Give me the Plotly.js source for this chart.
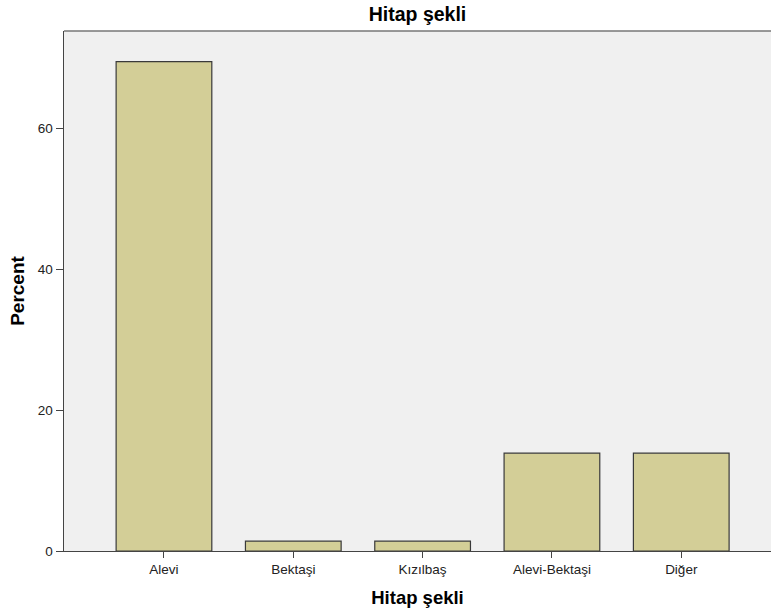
<!DOCTYPE html>
<html>
<head>
<meta charset="utf-8">
<script src="https://cdn.plot.ly/plotly-3.0.1.min.js"></script>
<style>html,body{margin:0;padding:0;background:#fff;}</style>
</head>
<body>
<div id="chart" style="width:771px;height:616px;"></div>
<script>
const categories = ["Alevi", "Bektaşi", "Kızılbaş", "Alevi-Bektaşi", "Diğer"];
const percents = [69.44, 1.39, 1.39, 13.89, 13.89];
const yTickVals = [0, 20, 40, 60];
const yTickText = ["0", "20", "40", "60"];

const trace = {
  type: "bar",
  x: categories,
  y: percents,
  width: 0.74,
  marker: {color: "#d3ce97", line: {color: "#3a3a3a", width: 1.2}},
  hoverinfo: "x+y"
};

const layout = {
  width: 771, height: 616,
  margin: {l: 64, r: 0, t: 31, b: 65},
  paper_bgcolor: "#ffffff",
  plot_bgcolor: "#f0f0f0",
  font: {family: "Liberation Sans, Arial, sans-serif", color: "#222", size: 13.5},
  title: {text: "Hitap şekli", font: {family: "Liberation Sans, Arial, sans-serif", size: 19.5, color: "#000", weight: "bold"}, x: 0.5, xref: "paper", y: 0.977, yanchor: "middle"},
  showlegend: false,
  xaxis: {
    range: [-0.773, 4.694],
    showgrid: false, zeroline: false,
    showline: true, linecolor: "#444", linewidth: 1,
    ticks: "outside", ticklen: 6, tickcolor: "#444", tickwidth: 1,
    tickfont: {size: 13.5, color: "#222"},
    title: {text: "Hitap şekli", font: {size: 18.5, color: "#000", weight: "bold"}, standoff: 14}
  },
  yaxis: {
    range: [0, 73.8],
    tickvals: yTickVals, ticktext: yTickText,
    showgrid: false, zeroline: false,
    showline: true, linecolor: "#444", linewidth: 1.5,
    ticks: "outside", ticklen: 7, tickcolor: "#444", tickwidth: 1,
    tickfont: {size: 13.5, color: "#222"},
    title: {text: "Percent", font: {size: 19, color: "#000", weight: "bold"}, standoff: 8}
  },
  shapes: [
    {type: "line", xref: "paper", yref: "paper", x0: 0, x1: 1, y0: 1, y1: 1, line: {color: "#777", width: 1.5}}
  ]
};

Plotly.newPlot("chart", [trace], layout, {displayModeBar: false, staticPlot: true});
</script>
</body>
</html>
